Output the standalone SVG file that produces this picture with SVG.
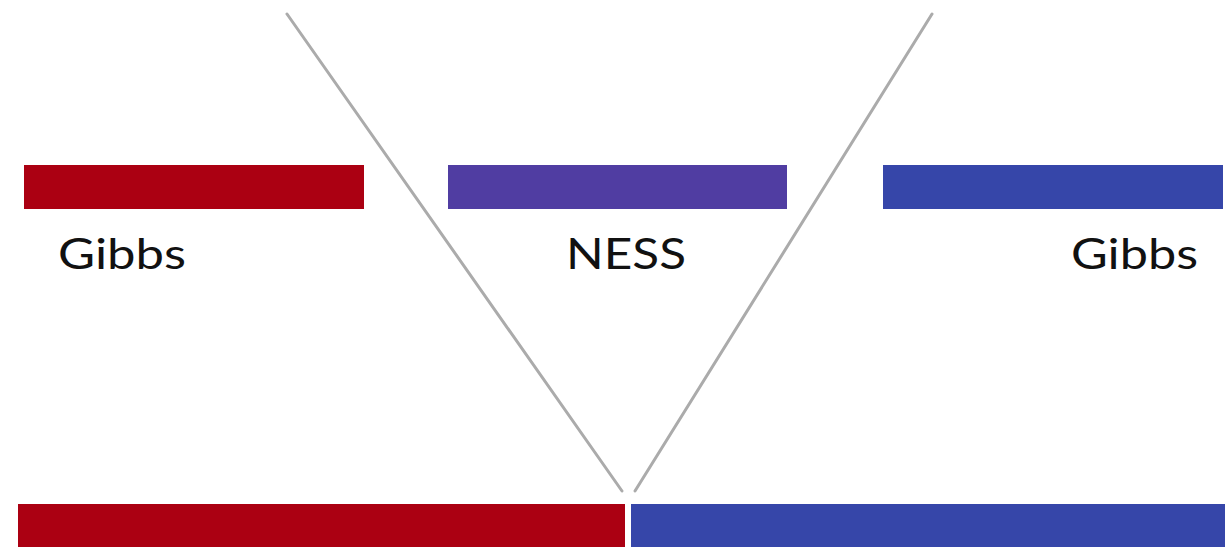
<svg xmlns="http://www.w3.org/2000/svg" width="1225" height="547" viewBox="0 0 1225 547">
<style>
.lbl{font-family:Lato,"Open Sans","Liberation Sans",sans-serif;font-size:42px;fill:#111;}
.red{fill:#AB0012;}
.purple{fill:#503DA2;}
.blue{fill:#3646A9;}
.ln{stroke:#ABABAB;stroke-width:3;stroke-linecap:round;fill:none;}
</style>
<rect width="1225" height="547" fill="#fff"/>
<g id="connectors">
<line class="ln" x1="287" y1="14" x2="622" y2="491"/>
<line class="ln" x1="932" y1="14" x2="635" y2="491"/>
</g>
<g id="gibbs-left">
<rect class="red" x="24" y="165" width="340" height="44"/>
<text class="lbl" x="58" y="269" textLength="128" lengthAdjust="spacingAndGlyphs">Gibbs</text>
</g>
<g id="ness">
<rect class="purple" x="448" y="165" width="339" height="44"/>
<text class="lbl" x="566" y="269" textLength="120" lengthAdjust="spacingAndGlyphs">NESS</text>
</g>
<g id="gibbs-right">
<rect class="blue" x="883" y="165" width="340" height="44"/>
<text class="lbl" x="1071" y="269" textLength="127" lengthAdjust="spacingAndGlyphs">Gibbs</text>
</g>
<g id="bottom-left">
<rect class="red" x="18" y="504" width="607" height="43"/>
</g>
<g id="bottom-right">
<rect class="blue" x="631" y="504" width="594" height="43"/>
</g>
</svg>
